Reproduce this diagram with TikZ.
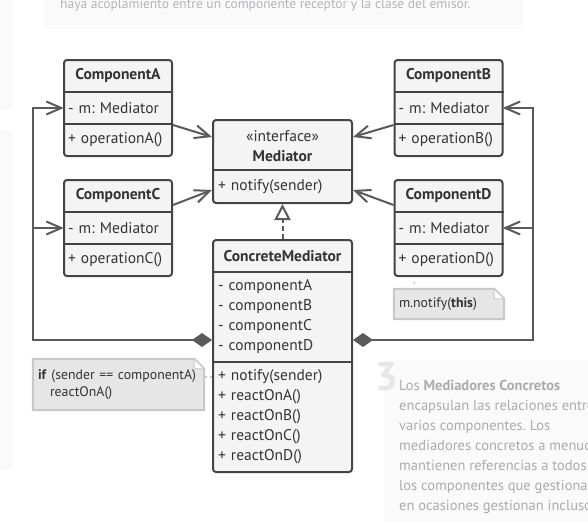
\documentclass[tikz,border=0pt]{standalone}
\usepackage{fontspec}
\setmainfont{PT Sans}
\usetikzlibrary{arrows.meta,calc}
\definecolor{boxfill}{HTML}{F4F4F4}
\definecolor{boxline}{HTML}{444444}
\definecolor{connc}{HTML}{5A5A5A}
\definecolor{txt}{HTML}{333333}
\definecolor{notefill}{HTML}{E6E6E6}
\definecolor{noteline}{HTML}{C8C8C8}
\definecolor{bgpanel}{HTML}{FAFAFA}
\definecolor{bgtext}{HTML}{B4B4B8}
\definecolor{bgtextb}{HTML}{ABABAB}
\definecolor{bignum}{HTML}{E6E6E6}
\frenchspacing
\begin{document}
\begin{tikzpicture}[x=1pt,y=-1pt,
  font=\fontsize{15.5}{20}\selectfont, text=txt,
  cls/.style={draw=boxline, fill=boxfill, line width=2pt, rounded corners=3pt, inner sep=0pt},
  compbox/.style={cls, minimum width=108pt, minimum height=96pt},
  rowc/.style={inner xsep=4pt, inner ysep=0pt, minimum height=32pt, text width=100pt, align=left},
  rowm/.style={inner xsep=5pt, inner ysep=0pt, minimum height=33pt, text width=129pt, align=left},
  ttl/.style={inner sep=0pt, font=\fontsize{15.5}{20}\selectfont\bfseries},
  div/.style={draw=boxline, line width=2pt},
  connl/.style={draw=connc, line width=2pt},
  barb/.style={connl, -{Straight Barb[length=15pt,width=13pt,line width=2pt]}},
  assoc/.style={connl, {Diamond[length=20pt,width=14pt,fill=connc]}-{Straight Barb[length=15pt,width=13pt,line width=2pt]}},
  realize/.style={connl, dash pattern=on 5pt off 3pt, -{Triangle[open,length=16pt,width=16pt,fill=white,line width=2pt]}},
  notebody/.style={inner xsep=5pt, inner ysep=0pt, align=left, font=\fontsize{13.8}{17}\selectfont},
  notedraw/.style={draw=noteline, fill=notefill, line width=2pt},
  notelink/.style={draw=noteline, line width=1.5pt, dash pattern=on 3pt off 3pt},
  bgt/.style={anchor=base west, inner sep=0pt, text=bgtextb, font=\fontsize{14.5}{20}\selectfont}
]
\useasboundingbox (0,0) rectangle (588,522);
\clip (0,0) rectangle (588,522);

% ---- background page elements ----
\fill[bgpanel] (44,0) rectangle (523,29);
\fill[bgpanel] (0,0) rectangle (13,110);
\fill[bgpanel] (0,130) rectangle (13,470);
\fill[bgpanel] (384,360) rectangle (588,522);
\node[anchor=base west, inner sep=0pt, text=bgtext, font=\fontsize{13.5}{20}\selectfont] (bgtop) at (60,9)
  {haya acoplamiento entre un componente receptor y la clase del emisor.};
\node[anchor=base west, inner sep=0pt, text=bignum, font=\fontsize{40}{40}\selectfont\bfseries] (three) at (375,390) {3};
\node[bgt] (b1) at (399,390) {Los \textbf{Mediadores Concretos}};
\node[bgt] (b2) at (399,410) {encapsulan las relaciones entre};
\node[bgt] (b3) at (399,430) {varios componentes. Los};
\node[bgt] (b4) at (399,450) {mediadores concretos a menudo};
\node[bgt] (b5) at (399,470) {mantienen referencias a todos};
\node[bgt] (b6) at (399,490) {los componentes que gestionan y};
\node[bgt] (b7) at (399,510) {en ocasiones gestionan incluso};

% ---- ComponentA ----
\node[compbox] (compA) at (118,108) {};
\node[ttl] (compAt) at (118,76) {ComponentA};
\node[rowc] (compAm) at (118,108) {- m: Mediator};
\node[rowc] (compAo) at (118,140) {+ operationA()};
\draw[div] (compA.west |- compAm.north) -- (compA.east |- compAm.north);
\draw[div] (compA.west |- compAm.south) -- (compA.east |- compAm.south);

% ---- ComponentC ----
\node[compbox] (compC) at (118,228) {};
\node[ttl] (compCt) at (118,196) {ComponentC};
\node[rowc] (compCm) at (118,228) {- m: Mediator};
\node[rowc] (compCo) at (118,260) {+ operationC()};
\draw[div] (compC.west |- compCm.north) -- (compC.east |- compCm.north);
\draw[div] (compC.west |- compCm.south) -- (compC.east |- compCm.south);

% ---- ComponentB ----
\node[compbox] (compB) at (448.5,108) {};
\node[ttl] (compBt) at (448.5,76) {ComponentB};
\node[rowc] (compBm) at (448.5,108) {- m: Mediator};
\node[rowc] (compBo) at (448.5,140) {+ operationB()};
\draw[div] (compB.west |- compBm.north) -- (compB.east |- compBm.north);
\draw[div] (compB.west |- compBm.south) -- (compB.east |- compBm.south);

% ---- ComponentD ----
\node[compbox] (compD) at (448.5,228) {};
\node[ttl] (compDt) at (448.5,196) {ComponentD};
\node[rowc] (compDm) at (448.5,228) {- m: Mediator};
\node[rowc] (compDo) at (448.5,260) {+ operationD()};
\draw[div] (compD.west |- compDm.north) -- (compD.east |- compDm.north);
\draw[div] (compD.west |- compDm.south) -- (compD.east |- compDm.south);

% ---- Mediator ----
\node[cls, minimum width=139pt, minimum height=83pt] (med) at (282.5,161.5) {};
\node[inner sep=0pt, align=center] (medt) at (282.5,146) {«interface»\\\textbf{Mediator}};
\node[rowm] (medn) at (282.5,186.5) {+ notify(sender)};
\draw[div] (med.west |- medn.north) -- (med.east |- medn.north);

% ---- ConcreteMediator ----
\node[cls, minimum width=139pt, minimum height=232pt] (cm) at (282.5,356) {};
\node[ttl] (cmt) at (282.5,256) {ConcreteMediator};
\node[rowm, minimum height=90pt] (cma) at (282.5,317) {- componentA\\- componentB\\- componentC\\- componentD};
\node[rowm, minimum height=110pt] (cmo) at (282.5,417) {+ notify(sender)\\+ reactOnA()\\+ reactOnB()\\+ reactOnC()\\+ reactOnD()};
\draw[div] (cm.west |- cma.north) -- (cm.east |- cma.north);
\draw[div] (cm.west |- cma.south) -- (cm.east |- cma.south);

% ---- connectors to Mediator ----
\draw[barb] ([yshift=-17pt]compA.east) -- ([yshift=24.5pt]med.west);
\draw[barb] ([yshift=23pt]compC.east) -- ([yshift=-28.5pt]med.west);
\draw[barb] ([yshift=-17pt]compB.west) -- ([yshift=24.5pt]med.east);
\draw[barb] ([yshift=23pt]compD.west) -- ([yshift=-28.5pt]med.east);

% ---- realization ----
\draw[realize] (cm.north) -- (med.south);

% ---- buses with composition ----
\coordinate (busL) at (33,340);
\coordinate (busR) at (533,340);
\draw[assoc] ([yshift=16pt]cm.west) -- (busL) |- (compAm.west);
\draw[barb] (busL |- compCm.west) -- (compCm.west);
\draw[assoc] ([yshift=16pt]cm.east) -- (busR) |- (compBm.east);
\draw[barb] (busR |- compDm.east) -- (compDm.east);

% ---- note D ----
\node[notebody, minimum width=110pt, minimum height=30pt, text width=100pt] (noteD) at (449,304) {};
\draw[notedraw] (noteD.north west) -- ([xshift=-10pt]noteD.north east) -- ([yshift=-10pt]noteD.north east)
  -- (noteD.south east) -- (noteD.south west) -- cycle;
\draw[draw=noteline, fill=white, line width=1pt] ([xshift=-10pt]noteD.north east) -- ([xshift=-10pt,yshift=-10pt]noteD.north east) -- ([yshift=-10pt]noteD.north east) -- cycle;
\node[notebody, minimum width=110pt, minimum height=30pt, text width=100pt] (noteDt) at (noteD) {m.notify(\textbf{this})};
\draw[notelink] ([xshift=-34.5pt,yshift=-5pt]compD.south) -- ([xshift=-34.5pt,yshift=5pt]noteD.north);

% ---- note A ----
\node[notebody, minimum width=171pt, minimum height=51pt, text width=161pt] (noteA) at (118.5,384.5) {};
\draw[notedraw] (noteA.north west) -- ([xshift=-10pt]noteA.north east) -- ([yshift=-10pt]noteA.north east)
  -- (noteA.south east) -- (noteA.south west) -- cycle;
\draw[draw=noteline, fill=white, line width=1pt] ([xshift=-10pt]noteA.north east) -- ([xshift=-10pt,yshift=-10pt]noteA.north east) -- ([yshift=-10pt]noteA.north east) -- cycle;
\node[notebody, minimum width=171pt, minimum height=51pt, text width=161pt] (noteAt) at (noteA)
  {\textbf{if} (sender == componentA)\\\hspace*{12pt}reactOnA()};
\draw[notelink] ([yshift=7.5pt]noteA.east) -- ([yshift=7.5pt]noteA.east -| cm.west);
\end{tikzpicture}
\end{document}
